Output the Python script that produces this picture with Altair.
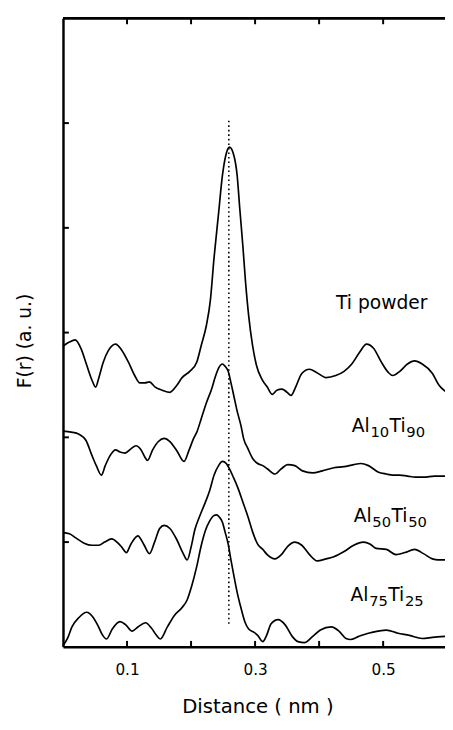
import altair as alt
import pandas as pd

# ---- data (distance r in nm, F(r) in arbitrary units) ----
ti_r = [0.000, 0.010, 0.019, 0.028, 0.037, 0.045, 0.051, 0.056, 0.063, 0.071, 0.082, 0.092,
        0.102, 0.112, 0.120, 0.128, 0.135, 0.144, 0.155, 0.167, 0.177, 0.186, 0.198, 0.209,
        0.216, 0.224, 0.230, 0.236, 0.243, 0.249, 0.255, 0.260, 0.266, 0.272, 0.276, 0.281,
        0.285, 0.290, 0.296, 0.302, 0.311, 0.319, 0.327, 0.334, 0.342, 0.350, 0.356, 0.364,
        0.373, 0.385, 0.396, 0.411, 0.426, 0.439, 0.451, 0.463, 0.474, 0.485, 0.497, 0.508,
        0.515, 0.526, 0.538, 0.549, 0.561, 0.577, 0.587, 0.597]
ti_F = [2.87, 2.91, 2.93, 2.85, 2.69, 2.55, 2.48, 2.57, 2.72, 2.83, 2.89, 2.83,
        2.72, 2.59, 2.52, 2.52, 2.53, 2.48, 2.45, 2.43, 2.49, 2.57, 2.63, 2.72,
        2.88, 3.07, 3.30, 3.72, 4.14, 4.50, 4.71, 4.77, 4.71, 4.50, 4.19, 3.82,
        3.49, 3.16, 2.88, 2.69, 2.55, 2.48, 2.41, 2.45, 2.46, 2.43, 2.40, 2.49,
        2.61, 2.65, 2.62, 2.57, 2.59, 2.63, 2.70, 2.81, 2.89, 2.85, 2.72, 2.62,
        2.59, 2.63, 2.70, 2.73, 2.70, 2.61, 2.50, 2.44]

a10_r = [0.000, 0.013, 0.025, 0.036, 0.045, 0.052, 0.060, 0.066, 0.074, 0.082, 0.089, 0.097,
         0.106, 0.114, 0.122, 0.128, 0.132, 0.140, 0.149, 0.158, 0.167, 0.178, 0.189, 0.197,
         0.204, 0.209, 0.216, 0.224, 0.232, 0.238, 0.243, 0.249, 0.253, 0.258, 0.262, 0.267,
         0.272, 0.278, 0.282, 0.289, 0.296, 0.304, 0.312, 0.319, 0.331, 0.341, 0.351, 0.362,
         0.374, 0.390, 0.405, 0.423, 0.439, 0.454, 0.465, 0.477, 0.492, 0.505, 0.515, 0.526,
         0.538, 0.551, 0.564, 0.580, 0.597]
a10_F = [2.06, 2.05, 2.03, 1.97, 1.83, 1.73, 1.64, 1.73, 1.83, 1.88, 1.86, 1.85,
         1.89, 1.92, 1.88, 1.81, 1.78, 1.88, 1.96, 1.99, 1.96, 1.87, 1.77, 1.88,
         1.99, 2.05, 2.18, 2.33, 2.46, 2.58, 2.66, 2.70, 2.68, 2.63, 2.53, 2.39,
         2.25, 2.11, 1.99, 1.89, 1.80, 1.75, 1.73, 1.70, 1.65, 1.70, 1.74, 1.73,
         1.68, 1.66, 1.68, 1.71, 1.72, 1.74, 1.75, 1.73, 1.67, 1.65, 1.64, 1.64,
         1.63, 1.62, 1.62, 1.63, 1.63]

a50_r = [0.000, 0.010, 0.020, 0.033, 0.045, 0.056, 0.065, 0.076, 0.086, 0.092, 0.099, 0.106,
         0.117, 0.126, 0.135, 0.143, 0.151, 0.158, 0.167, 0.178, 0.187, 0.194, 0.200, 0.206,
         0.213, 0.221, 0.229, 0.236, 0.243, 0.249, 0.255, 0.259, 0.266, 0.273, 0.281, 0.289,
         0.296, 0.304, 0.312, 0.319, 0.331, 0.341, 0.351, 0.362, 0.373, 0.385, 0.397, 0.411,
         0.423, 0.439, 0.454, 0.469, 0.480, 0.489, 0.505, 0.520, 0.534, 0.549, 0.563, 0.577,
         0.586, 0.597]
a50_F = [1.09, 1.08, 1.04, 0.99, 0.97, 0.97, 1.00, 1.03, 0.99, 0.95, 0.90, 0.98,
         1.06, 0.98, 0.89, 1.00, 1.13, 1.16, 1.13, 1.02, 0.90, 0.83, 0.95, 1.12,
         1.24, 1.36, 1.49, 1.64, 1.73, 1.77, 1.75, 1.71, 1.62, 1.52, 1.38, 1.24,
         1.10, 0.98, 0.93, 0.88, 0.84, 0.88, 0.96, 1.00, 0.97, 0.88, 0.82, 0.84,
         0.86, 0.91, 0.97, 1.00, 0.98, 0.94, 0.93, 0.88, 0.90, 0.93, 0.89, 0.84,
         0.83, 0.83]

a75_r = [0.000, 0.007, 0.014, 0.025, 0.037, 0.046, 0.054, 0.062, 0.068, 0.077, 0.089, 0.098,
         0.108, 0.117, 0.129, 0.138, 0.146, 0.152, 0.163, 0.174, 0.186, 0.194, 0.201, 0.209,
         0.216, 0.223, 0.229, 0.235, 0.240, 0.244, 0.249, 0.253, 0.258, 0.262, 0.267, 0.272,
         0.278, 0.284, 0.290, 0.298, 0.304, 0.312, 0.318, 0.325, 0.336, 0.347, 0.358, 0.367,
         0.377, 0.390, 0.402, 0.419, 0.431, 0.442, 0.449, 0.462, 0.477, 0.492, 0.505, 0.523,
         0.541, 0.561, 0.577, 0.597]
a75_F = [0.01, 0.08, 0.19, 0.28, 0.33, 0.29, 0.21, 0.11, 0.075, 0.17, 0.24, 0.21,
         0.15, 0.19, 0.23, 0.18, 0.11, 0.075, 0.19, 0.30, 0.375, 0.45, 0.58, 0.77,
         0.97, 1.12, 1.20, 1.25, 1.26, 1.24, 1.19, 1.10, 0.98, 0.84, 0.675, 0.52,
         0.37, 0.24, 0.17, 0.14, 0.11, 0.05, 0.11, 0.22, 0.26, 0.21, 0.10, 0.05,
         0.04, 0.10, 0.16, 0.19, 0.15, 0.08, 0.07, 0.10, 0.13, 0.15, 0.16, 0.13,
         0.11, 0.08, 0.09, 0.10]

ref_r = 0.259          # dotted reference line position (nm)
ref_F = [0.22, 5.05]   # its vertical extent

x_ticks = [0.1, 0.2, 0.3, 0.4, 0.5]
x_labels = ["0.1", "0.3", "0.5"]
y_ticks = [1, 2, 3, 4, 5]

# labels
ti_label = "Ti powder"
ti_label_pos = (0.4264, 3.23)
alloy_main = ["Al", "Ti"]
alloy_sub1 = ["10", "50", "75"]
alloy_sub2 = ["90", "50", "25"]
alloy_r = [0.451, 0.454, 0.449]
alloy_F = [2.05, 1.19, 0.44]

# ---- build tables ----
rows = []
for name, rs, fs in [("Ti powder", ti_r, ti_F), ("Al10Ti90", a10_r, a10_F),
                     ("Al50Ti50", a50_r, a50_F), ("Al75Ti25", a75_r, a75_F)]:
    for i, (r, f) in enumerate(zip(rs, fs)):
        rows.append({"sample": name, "i": i, "r": r, "F": f})
curves = pd.DataFrame(rows)

FONT = "DejaVu Sans"
W, H = 389, 640
XMAX = 0.5966

xscale = alt.Scale(domain=[0, XMAX], nice=False, zero=False)
yscale = alt.Scale(domain=[0, 6], nice=False, zero=False)

label_expr = "indexof(" + str(x_labels) + ", datum.label) >= 0 ? datum.label : ''"

xaxis = alt.Axis(values=x_ticks, ticks=False, domain=True, domainColor="black",
                 domainWidth=2.5, grid=False,
                 labelExpr=label_expr, labelFont=FONT, labelFontSize=15.5,
                 labelColor="black", labelPadding=28, labelBaseline="alphabetic",
                 title="Distance ( nm )", titleFont=FONT, titleFontSize=20,
                 titleFontWeight="normal", titleColor="black",
                 titleX=198, titleY=67, titleBaseline="alphabetic", titleAlign="center")
yaxis = alt.Axis(labels=False, ticks=False, domain=True, domainColor="black",
                 domainWidth=2.5, grid=False,
                 title="F(r) (a. u.)", titleFont=FONT, titleFontSize=19,
                 titleFontWeight="normal", titleColor="black",
                 titleX=-39, titleY=328, titleAngle=270,
                 titleBaseline="middle", titleAlign="center")

lines = alt.Chart(curves).mark_line(color="black", strokeWidth=1.7, interpolate="monotone").encode(
    x=alt.X("r:Q", scale=xscale, axis=xaxis),
    y=alt.Y("F:Q", scale=yscale, axis=yaxis),
    detail="sample:N",
    order="i:Q",
)

xt = pd.DataFrame({"r": x_ticks})
yt = pd.DataFrame({"F": y_ticks})

bottom_ticks = alt.Chart(xt).mark_rule(color="black", strokeWidth=2).encode(
    x=alt.X("r:Q", scale=xscale, axis=xaxis), y=alt.value(H), y2=alt.value(H - 6))
top_ticks = alt.Chart(xt).mark_rule(color="black", strokeWidth=2).encode(
    x=alt.X("r:Q", scale=xscale, axis=xaxis), y=alt.value(0), y2=alt.value(6))
left_ticks = alt.Chart(yt).mark_rule(color="black", strokeWidth=2).encode(
    y=alt.Y("F:Q", scale=yscale, axis=yaxis), x=alt.value(0), x2=alt.value(6))
top_frame = alt.Chart(xt).mark_rule(color="black", strokeWidth=2).encode(
    x=alt.value(0), x2=alt.value(W), y=alt.value(0))

ref = pd.DataFrame({"r": [ref_r], "F": [ref_F[0]], "F1": [ref_F[1]]})
dotted = alt.Chart(ref).mark_rule(color="black", strokeWidth=1.6, strokeDash=[1.6, 3]).encode(
    x=alt.X("r:Q", scale=xscale, axis=xaxis),
    y=alt.Y("F:Q", scale=yscale, axis=yaxis), y2="F1:Q")

ti_df = pd.DataFrame({"r": [ti_label_pos[0]], "F": [ti_label_pos[1]], "t": [ti_label]})
alloy_df = pd.DataFrame({"r": alloy_r, "F": alloy_F, "a": alloy_main[0], "b": alloy_main[1],
                         "s1": alloy_sub1, "s2": alloy_sub2})

def txt(df, field, dx, dy, size):
    return alt.Chart(df).mark_text(align="left", baseline="alphabetic", font=FONT,
                                   fontSize=size, color="black", dx=dx, dy=dy).encode(
        x=alt.X("r:Q", scale=xscale, axis=xaxis),
        y=alt.Y("F:Q", scale=yscale, axis=yaxis),
        text=f"{field}:N")

labels = [
    txt(ti_df, "t", 0, 0, 19),
    txt(alloy_df, "a", 0, 0, 19),
    txt(alloy_df, "s1", 19, 5, 15),
    txt(alloy_df, "b", 38.5, 0, 19),
    txt(alloy_df, "s2", 55.5, 5, 15),
]

chart = alt.layer(lines, bottom_ticks, top_ticks, left_ticks, top_frame, dotted, *labels).properties(
    width=W, height=H,
    padding={"left": 56, "top": 4, "right": 0, "bottom": 70},
    autosize=alt.AutoSizeParams(type="none"),
    background="white",
).configure_view(stroke=None)

chart.save("out.html", embed_options={"renderer": "svg", "actions": False})
